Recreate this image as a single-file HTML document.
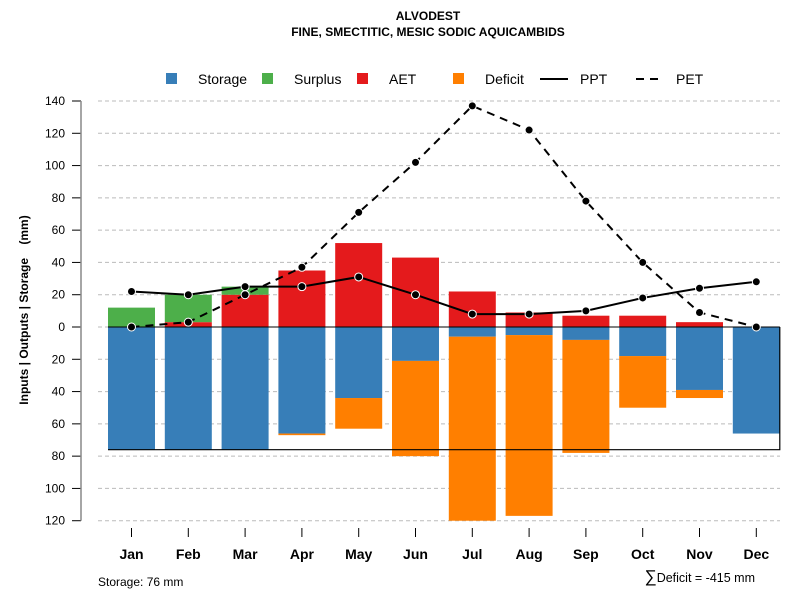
<!DOCTYPE html>
<html><head><meta charset="utf-8"><style>
body{margin:0;background:#fff;font-family:"Liberation Sans",sans-serif}
</style></head><body>
<svg id="c" width="800" height="600" xmlns="http://www.w3.org/2000/svg" font-family="Liberation Sans, sans-serif">
<text x="428" y="20" text-anchor="middle" font-size="12" font-weight="bold">ALVODEST</text>
<text x="428" y="36" text-anchor="middle" font-size="12" font-weight="bold">FINE, SMECTITIC, MESIC SODIC AQUICAMBIDS</text>
<g id="grid"></g><g id="bars"></g><g id="lines"></g><g id="axes"></g>
<g font-size="14">
<rect x="166" y="73" width="11" height="11" fill="#377eb8"/><text x="198" y="84">Storage</text>
<rect x="262" y="73" width="11" height="11" fill="#4daf4a"/><text x="294" y="84">Surplus</text>
<rect x="357" y="73" width="11" height="11" fill="#e41a1c"/><text x="389" y="84">AET</text>
<rect x="453" y="73" width="11" height="11" fill="#ff7f00"/><text x="485" y="84">Deficit</text>
<line x1="540" y1="79" x2="568" y2="79" stroke="#000" stroke-width="2"/><text x="580" y="84">PPT</text>
<line x1="636" y1="79" x2="664" y2="79" stroke="#000" stroke-width="2" stroke-dasharray="8,6"/><text x="676" y="84">PET</text>
</g>
<text transform="translate(28,310) rotate(-90)" text-anchor="middle" font-size="12" font-weight="bold">Inputs | Outputs | Storage&#160;&#160;&#160;&#160;(mm)</text>
<text x="98" y="586" font-size="12">Storage: 76 mm</text>
<text x="755" y="582" text-anchor="end" font-size="12.5"><tspan font-size="17">∑</tspan>Deficit = -415 mm</text>
</svg>
<script>
const months=["Jan","Feb","Mar","Apr","May","Jun","Jul","Aug","Sep","Oct","Nov","Dec"];
const storage=[76,76,76,66,44,21,6,5,8,18,39,66];
const deficit=[0,0,0,1,19,59,114,112,70,32,5,0];
const aet=[0,3,20,35,52,43,22,9,7,7,3,0];
const surplus=[12,17,5,0,0,0,0,0,0,0,0,0];
const ppt=[22,20,25,25,31,20,8,8,10,18,24,28];
const pet=[0,3,20,37,71,102,137,122,78,40,9,0];
const soilStorage=76;
const yTicks=[140,120,100,80,60,40,20,0,-20,-40,-60,-80,-100,-120];
const NS="http://www.w3.org/2000/svg";
const y=v=>327-v*1.6143;
const x=i=>131.5+i*56.8;
const bw=47;
function mk(p,t,a){const e=document.createElementNS(NS,t);for(const k in a)e.setAttribute(k,a[k]);document.getElementById(p).appendChild(e);return e;}
yTicks.forEach(t=>{
 const g=mk('grid','line',{x1:98,x2:780,y1:y(t),y2:y(t),stroke:'#bbb','stroke-dasharray':'4,3'});
 
 
 const tk=mk('axes','line',{x1:72,x2:81,y1:y(t),y2:y(t),stroke:'#000'});
 
 
 const tx=mk('axes','text',{x:65,y:y(t)+4,'text-anchor':'end','font-size':12});
 tx.textContent=Math.abs(t);
 
 
});
const ax=mk('axes','line',{x1:81,x2:81,y1:y(140),y2:y(-120),stroke:'#888','stroke-width':1.5});


function bar(i,v0,v1,col,name){if(v1===v0)return;const r=mk('bars','rect',{x:x(i)-bw/2,y:Math.min(y(v0),y(v1)),width:bw,height:Math.abs(y(v1)-y(v0)),fill:col});
 
 }
months.forEach((m,i)=>{
 bar(i,0,-storage[i],'#377eb8','storage-bar-'+m.toLowerCase());
 bar(i,-storage[i],-storage[i]-deficit[i],'#ff7f00','deficit-bar-'+m.toLowerCase());
 bar(i,0,aet[i],'#e41a1c','aet-bar-'+m.toLowerCase());
 bar(i,aet[i],aet[i]+surplus[i],'#4daf4a','surplus-bar-'+m.toLowerCase());
 const tk=mk('axes','line',{x1:x(i),x2:x(i),y1:528,y2:537,stroke:'#000'});
 
 
 const t=mk('axes','text',{x:x(i),y:559,'text-anchor':'middle','font-size':14,'font-weight':'bold'});
 t.textContent=m;
 
 
});
const zl=mk('lines','line',{x1:x(0)-bw/2,x2:x(11)+bw/2,y1:y(0),y2:y(0),stroke:'#000'});


const sb=mk('lines','polyline',{points:`${x(0)-bw/2},${y(-soilStorage)} ${x(11)+bw/2},${y(-soilStorage)} ${x(11)+bw/2},${y(0)}`,fill:'none',stroke:'#000','stroke-width':1.2});


function series(arr,dash,name){
 const l=mk('lines','polyline',{points:arr.map((v,i)=>x(i)+','+y(v)).join(' '),fill:'none',stroke:'#000','stroke-width':2,'stroke-dasharray':dash});
 
 
 arr.forEach((v,i)=>{const c=mk('lines','circle',{cx:x(i),cy:y(v),r:4,fill:'#000',stroke:'#fff','stroke-width':1});
 
 });
}
series(ppt,'none','ppt');
series(pet,'8,6','pet');
</script>
</body></html>
